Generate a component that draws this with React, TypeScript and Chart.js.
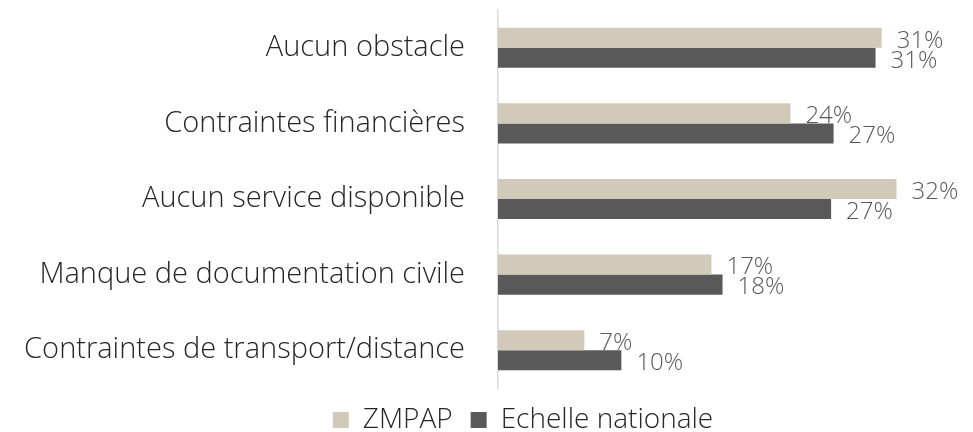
import React, { useEffect, useRef } from "react";
import { Chart, registerables } from "chart.js";

Chart.register(...registerables);

const categories = [
  "Aucun obstacle",
  "Contraintes financières",
  "Aucun service disponible",
  "Manque de documentation civile",
  "Contraintes de transport/distance",
];
const seriesNames = ["ZMPAP", "Echelle nationale"];
const zmpapValues = [31.1, 23.7, 32.3, 17.3, 7.0];
const nationalValues = [30.6, 27.2, 27.0, 18.2, 10.0];

const FONT = '"Open Sans", "Segoe UI", sans-serif';

const dataLabelPlugin = {
  id: "dataLabels",
  afterDatasetsDraw(chart: any) {
    const ctx = chart.ctx;
    ctx.save();
    ctx.font = `300 24px ${FONT}`;
    ctx.fillStyle = "#595959";
    ctx.textAlign = "left";
    ctx.textBaseline = "middle";
    chart.data.datasets.forEach((ds: any, di: number) => {
      const meta = chart.getDatasetMeta(di);
      meta.data.forEach((el: any, i: number) => {
        const v = ds.data[i];
        ctx.fillText(`${Math.round(v)}%`, el.x + 15, el.y + 3);
      });
    });
    ctx.restore();
  },
};

// shift the legend so it is centred like the original
const legendShiftPlugin = {
  id: "legendShift",
  afterLayout(chart: any) {
    if (chart.legend) {
      chart.legend.left += 73;
    }
  },
};

export default function App() {
  const ref = useRef<HTMLCanvasElement | null>(null);
  useEffect(() => {
    if (!ref.current) return;
    const chart = new Chart(ref.current, {
      type: "bar",
      data: {
        labels: categories,
        datasets: [
          {
            label: seriesNames[0],
            data: zmpapValues,
            backgroundColor: "#D1CAB8",
            categoryPercentage: 0.53,
            barPercentage: 1,
          },
          {
            label: seriesNames[1],
            data: nationalValues,
            backgroundColor: "#595959",
            categoryPercentage: 0.53,
            barPercentage: 1,
          },
        ],
      },
      options: {
        indexAxis: "y",
        responsive: false,
        animation: false,
        layout: { padding: { left: 0, right: 0, top: 10, bottom: -12 } },
        scales: {
          x: { display: false, min: 0, max: 38.5 },
          y: {
            grid: { display: false, drawTicks: false },
            border: { display: true, color: "#D9D9D9", width: 1.5 },
            ticks: {
              padding: 33,
              color: "#262626",
              font: { family: FONT, size: 29, weight: "300" },
            },
            afterFit: (s: any) => {
              s.width = 498;
              s.paddingTop = 0;
              s.paddingBottom = 0;
            },
          },
        },
        plugins: {
          tooltip: { enabled: false },
          legend: {
            position: "bottom",
            labels: {
              boxWidth: 16,
              boxHeight: 16,
              padding: 18,
              color: "#262626",
              font: { family: FONT, size: 28, weight: "300" },
            },
          },
        },
      },
      plugins: [dataLabelPlugin, legendShiftPlugin],
    });
    return () => chart.destroy();
  }, []);
  return (
    <div style={{ position: "absolute", left: 0, top: 0, width: 973, height: 432, background: "#fff" }}>
      <canvas ref={ref} width={973} height={432} style={{ display: "block" }} />
    </div>
  );
}
